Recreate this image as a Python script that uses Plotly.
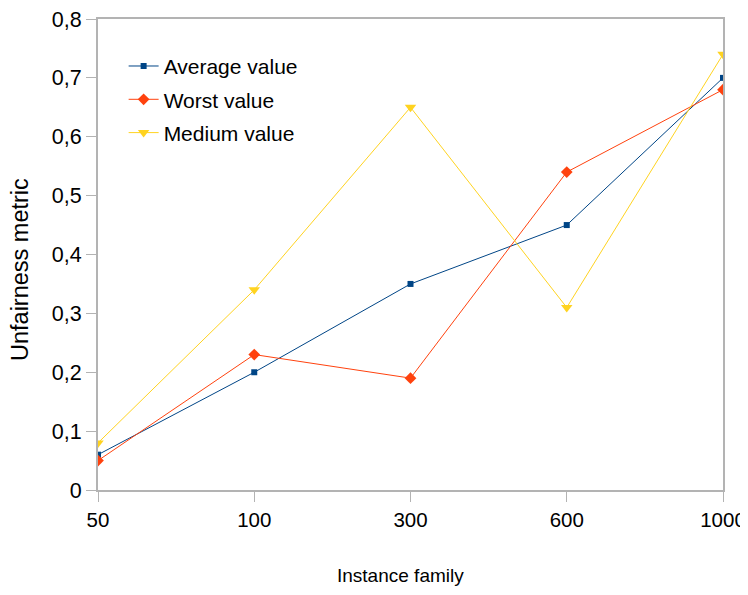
import plotly.graph_objects as go

categories = ["50", "100", "300", "600", "1000"]
average_value = [0.06, 0.20, 0.35, 0.45, 0.70]
worst_value = [0.05, 0.23, 0.19, 0.54, 0.68]
medium_value = [0.08, 0.34, 0.65, 0.31, 0.74]
y_ticks = [0, 0.1, 0.2, 0.3, 0.4, 0.5, 0.6, 0.7, 0.8]
y_tick_labels = ["0", "0,1", "0,2", "0,3", "0,4", "0,5", "0,6", "0,7", "0,8"]

FONT = "Liberation Sans, Arial, sans-serif"

fig = go.Figure()
fig.add_trace(go.Scatter(x=categories, y=average_value, name="Average value",
                         legendgroup="a",
                         mode="lines+markers", line=dict(color="#004586", width=1),
                         marker=dict(symbol="square", size=6, color="#004586")))
fig.add_trace(go.Scatter(x=categories, y=worst_value, name="Worst value",
                         legendgroup="b",
                         mode="lines+markers", line=dict(color="#ff420e", width=1),
                         marker=dict(symbol="diamond", size=9, color="#ff420e")))
fig.add_trace(go.Scatter(x=categories, y=medium_value, name="Medium value",
                         legendgroup="c",
                         mode="lines+markers", line=dict(color="#ffd320", width=1),
                         marker=dict(symbol="triangle-down", size=10, color="#ffd320")))

axis_common = dict(showline=True, linecolor="#b3b3b3", linewidth=2, mirror=True,
                   showgrid=False, zeroline=False, ticks="outside", tickcolor="#b3b3b3",
                   ticklen=10, tickwidth=1, automargin=False, ticklabeloverflow="allow")

fig.update_layout(
    width=740, height=587,
    margin=dict(l=90, r=25, t=11, b=105),
    paper_bgcolor="white", plot_bgcolor="white",
    font=dict(family=FONT, color="#000"),
    xaxis=dict(type="category", range=[0, 4],
               tickfont=dict(family=FONT, size=20.5, color="#000"),
               **axis_common),
    yaxis=dict(range=[0, 0.8], tickvals=y_ticks, ticktext=y_tick_labels,
               tickfont=dict(family=FONT, size=21.5, color="#000"),
               **axis_common),
    legend=dict(x=0.041, y=0.943, xanchor="left", yanchor="top",
                bgcolor="rgba(0,0,0,0)", font=dict(family=FONT, size=21), itemwidth=30,
                tracegroupgap=3),
    showlegend=True,
    annotations=[
        dict(text="Instance family", xref="paper", yref="paper",
             x=(392 - 90) / 625, y=-(567 - 482) / 471, xanchor="center", yanchor="middle",
             showarrow=False, font=dict(family=FONT, size=19, color="#000")),
        dict(text="Unfairness metric", xref="paper", yref="paper", textangle=-90,
             x=-(90 - 12) / 625, y=(482 - 262) / 471, xanchor="center", yanchor="middle",
             showarrow=False, font=dict(family=FONT, size=23.5, color="#000")),
    ],
)

fig.write_html("out.html")
